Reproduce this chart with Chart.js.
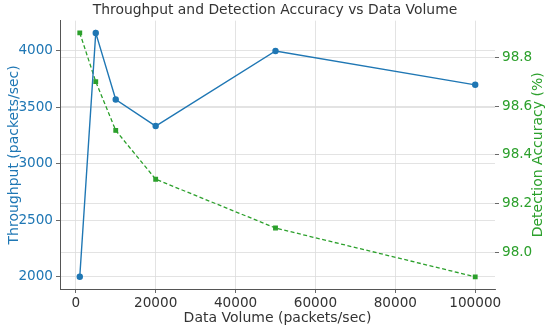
<!DOCTYPE html>
<html>
<head>
<meta charset="utf-8">
<script src="https://cdn.jsdelivr.net/npm/chart.js@4"></script>
<style>
    html, body { margin: 0; padding: 0; background: #fff; }
    #wrap { width: 550px; height: 327px; }
</style>
</head>
<body>
<div id="wrap"><canvas id="chart" width="550" height="327"></canvas></div>
<script>
    // データ
    const dataVolume = [1000, 5000, 10000, 20000, 50000, 100000];
    const throughput = [2000, 4160, 3570, 3335, 4000, 3700];
    const accuracy = [98.9, 98.7, 98.5, 98.3, 98.1, 97.9];
    const xTicks = [0, 20000, 40000, 60000, 80000, 100000];
    const throughputTicks = [2000, 2500, 3000, 3500, 4000];
    const accuracyTicks = [98.0, 98.2, 98.4, 98.6, 98.8];

    const BLUE = '#1f77b4';
    const GREEN = '#2ca02c';
    const FONT = 'DejaVu Sans';
    const RIGHT_TITLE = 'Detection Accuracy (%)';

    // matplotlib 風の 5% マージン
    function padRange(arr) {
        const lo = Math.min(...arr), hi = Math.max(...arr);
        const m = (hi - lo) * 0.05;
        return { min: lo - m, max: hi + m };
    }
    const xr = padRange(dataVolume);
    const yr = padRange(throughput);
    const y1r = padRange(accuracy);

    function fixedTicks(list) {
        return function(scale) {
            scale.ticks = list.map(v => ({ value: v }));
        };
    }

    const gridStyle = {
        color: '#dcdcdc',
        lineWidth: 0.8,
        borderDash: [2, 2],
        tickLength: 4,
        tickColor: '#444',
        tickBorderDash: []
    };

    // 右軸タイトル（下から上へ読む向き）
    const rightTitlePlugin = {
        id: 'rightTitle',
        afterDraw(chart) {
            const s = chart.scales.y1;
            const c = chart.ctx;
            c.save();
            c.translate(538, (s.top + s.bottom) / 2);
            c.rotate(-Math.PI / 2);
            c.fillStyle = GREEN;
            c.font = '14px "' + FONT + '"';
            c.textAlign = 'center';
            c.textBaseline = 'middle';
            c.fillText(RIGHT_TITLE, 0, 0);
            c.restore();
        }
    };

    const ctx = document.getElementById('chart').getContext('2d');
    new Chart(ctx, {
        type: 'line',
        data: {
            datasets: [
                {
                    label: 'Throughput',
                    data: dataVolume.map((x, i) => ({ x: x, y: throughput[i] })),
                    borderColor: BLUE,
                    backgroundColor: BLUE,
                    borderWidth: 1.4,
                    pointRadius: 2.5,
                    pointStyle: 'circle',
                    yAxisID: 'y',
                    tension: 0
                },
                {
                    label: 'Detection Accuracy',
                    data: dataVolume.map((x, i) => ({ x: x, y: accuracy[i] })),
                    borderColor: GREEN,
                    backgroundColor: GREEN,
                    borderWidth: 1.3,
                    borderDash: [4, 2.5],
                    pointRadius: 2.5,
                    pointStyle: 'rect',
                    yAxisID: 'y1',
                    tension: 0
                }
            ]
        },
        plugins: [rightTitlePlugin],
        options: {
            responsive: false,
            animation: false,
            layout: { padding: { left: 0, right: 0, top: 0, bottom: 0 } },
            plugins: {
                legend: { display: false },
                tooltip: { enabled: false },
                title: {
                    display: true,
                    text: 'Throughput and Detection Accuracy vs Data Volume',
                    color: '#333',
                    font: { family: FONT, size: 13.9, weight: 'normal' },
                    padding: { top: 2, bottom: 2 }
                }
            },
            scales: {
                x: {
                    type: 'linear',
                    min: xr.min,
                    max: xr.max,
                    afterBuildTicks: fixedTicks(xTicks),
                    afterFit: s => { s.height = 38; },
                    grid: gridStyle,
                    border: { display: true, color: '#555', width: 1 },
                    ticks: {
                        color: '#333',
                        padding: 2,
                        maxRotation: 0,
                        font: { family: FONT, size: 13.6 },
                        callback: v => String(v)
                    },
                    title: {
                        display: true,
                        text: 'Data Volume (packets/sec)',
                        color: '#333',
                        font: { family: FONT, size: 14 },
                        padding: { top: 0, bottom: 0 }
                    }
                },
                y: {
                    type: 'linear',
                    position: 'left',
                    min: yr.min,
                    max: yr.max,
                    afterBuildTicks: fixedTicks(throughputTicks),
                    afterFit: s => { s.width = 60; },
                    grid: gridStyle,
                    border: { display: true, color: '#555', width: 1 },
                    ticks: {
                        color: BLUE,
                        padding: 3,
                        font: { family: FONT, size: 13.6 },
                        callback: v => String(v)
                    },
                    title: {
                        display: true,
                        text: 'Throughput (packets/sec)',
                        color: BLUE,
                        font: { family: FONT, size: 14 },
                        padding: { top: 6, bottom: 0 }
                    }
                },
                y1: {
                    type: 'linear',
                    position: 'right',
                    min: y1r.min,
                    max: y1r.max,
                    afterBuildTicks: fixedTicks(accuracyTicks),
                    afterFit: s => { s.width = 55; },
                    grid: gridStyle,
                    border: { display: false },
                    ticks: {
                        color: GREEN,
                        padding: 3,
                        font: { family: FONT, size: 13.6 },
                        callback: v => v.toFixed(1)
                    },
                    title: { display: false }
                }
            }
        }
    });
</script>
</body>
</html>
